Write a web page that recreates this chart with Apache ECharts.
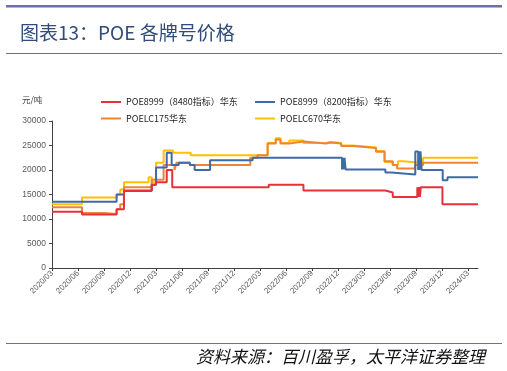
<!DOCTYPE html>
<html><head><meta charset="utf-8">
<script src="https://cdn.jsdelivr.net/npm/echarts@6/dist/echarts.min.js"></script>
<style>html,body{margin:0;padding:0;background:#fff}#c{width:507px;height:371px}</style>
</head><body><div id="c"></div>
<script>
// ---- data (change points: [date, price]; price holds until next point) ----
const seriesNames = ['POE8999（8480指标）华东','POE8999（8200指标）华东','POELC175华东','POELC670华东'];
const xTickLabels = ['2020/03','2020/06','2020/09','2020/12','2021/03','2021/06','2021/09','2021/12','2022/03','2022/06','2022/09','2022/12','2023/03','2023/06','2023/09','2023/12','2024/03'];
const yTicks = [0,5000,10000,15000,20000,25000,30000];
const startDate = '2020-03-01';
const endDate = '2024-04-05';

const red8480 = [
 ['2020-03-01',11500],['2020-06-15',10900],['2020-10-15',12000],['2020-11-10',15800],
 ['2021-02-15',17000],['2021-03-01',17500],['2021-04-08',20000],['2021-04-27',16500],
 ['2022-04-01',17000],['2022-08-01',15800],['2023-05-15',15400],['2023-06-10',14500],
 ['2023-09-05',16500],['2023-09-08',14500],['2023-09-11',16500],['2023-09-14',14500],['2023-09-17',16500],
 ['2023-12-02',13000],['2024-04-05',13000]
];
const blue8200 = [
 ['2020-03-01',13500],['2020-10-15',15000],['2020-11-10',15700],['2021-02-15',17000],
 ['2021-03-01',20500],['2021-04-08',23500],['2021-04-25',21000],['2021-05-20',21500],
 ['2021-06-28',21000],['2021-07-15',20000],['2021-09-08',22000],['2022-02-05',22500],
 ['2022-12-15',20100],['2022-12-18',22500],['2022-12-21',20100],['2022-12-24',22500],['2022-12-28',20100],
 ['2023-05-15',19500],['2023-06-05',19100],
 ['2023-08-29',23800],['2023-09-08',20000],['2023-09-10',23800],['2023-09-14',20000],['2023-09-16',23800],['2023-09-20',20000],
 ['2023-12-03',17900],['2023-12-20',18500],['2024-04-05',18500]
];
const orangeC175 = [
 ['2020-03-01',12400],['2020-06-15',11200],['2020-08-30',11000],['2020-10-15',12000],
 ['2020-10-28',13000],['2020-11-10',16500],['2021-02-15',18000],['2021-03-28',21000],
 ['2021-05-05',20000],['2021-05-12',21500],['2021-06-28',21000],['2022-01-28',22500],
 ['2022-02-20',23000],['2022-03-28',25400],['2022-04-25',26200],['2022-05-12',25400],
 ['2022-06-12',25800],['2022-08-01',25400],['2022-10-20',25600],['2022-11-05',25400],
 ['2022-12-12',24900],['2023-01-22',24500],['2023-04-12',23700],['2023-05-12',21800],
 ['2023-06-10',21000],['2023-06-25',20300],['2023-08-28',21000],['2023-09-25',21500],
 ['2024-04-05',21500]
];
const yellowC670 = [
 ['2020-03-01',13000],['2020-06-15',14400],['2020-10-15',15000],['2020-10-28',16000],
 ['2020-11-10',17500],['2021-02-05',18500],['2021-02-15',17500],['2021-03-01',21500],
 ['2021-03-28',24000],['2021-04-30',23500],['2021-07-01',23000],['2022-03-28',25500],
 ['2022-04-25',26500],['2022-05-12',25500],['2022-06-12',26000],['2022-08-01',25500],
 ['2022-10-20',25700],['2022-11-05',25500],['2022-12-12',25000],['2023-01-22',24600],
 ['2023-04-12',23900],['2023-05-12',21650],['2023-06-10',21000],['2023-06-28',21800],
 ['2023-07-15',21450],['2023-09-25',22500],['2024-04-05',22500]
];
const colors = ['#E8303A','#3E6BA8','#F08436','#FFC000'];

// ---- helpers ----
function toM(s){
  const [y,m,d] = s.split('-').map(Number);
  const dim = new Date(y, m, 0).getDate();
  return (y-2020)*12 + (m-3) + (d-1)/dim;
}
const conv = arr => arr.map(p => [toM(p[0]), p[1]]);
const tickVals = xTickLabels.map((_, i) => i*3);

const chart = echarts.init(document.getElementById('c'), null, {renderer:'canvas'});
const mk = (name, data, color, z) => ({
  name, type:'line', step:'end', data: conv(data), showSymbol:false, symbol:'none',
  lineStyle:{color, width:2}, itemStyle:{color}, z, animation:false
});
const legendText = {fontSize:9, color:'#222', fontFamily:'"Noto Sans CJK SC", sans-serif', lineHeight:10};
chart.setOption({
  animation:false,
  grid:{left:52, top:121, right:29, bottom:103},
  legend:[
    {left:101, top:97, orient:'vertical', itemGap:6.5, itemWidth:20, itemHeight:2, icon:'rect',
     data:[seriesNames[0], seriesNames[2]], textStyle:legendText, selectedMode:false, padding:0},
    {left:255, top:97, orient:'vertical', itemGap:6.5, itemWidth:20, itemHeight:2, icon:'rect',
     data:[seriesNames[1], seriesNames[3]], textStyle:legendText, selectedMode:false, padding:0}
  ],
  xAxis:{
    type:'value', min:0, max:toM(endDate), interval:3,
    axisLine:{lineStyle:{color:'#404040', width:1}},
    axisTick:{show:true, length:3, lineStyle:{color:'#404040'}, customValues:tickVals},
    axisLabel:{rotate:45, fontSize:8, color:'#595959', margin:4, customValues:tickVals,
      fontFamily:'"Liberation Sans", Arial, sans-serif',
      formatter: v => { const i = Math.round(v/3); return (Math.abs(v - i*3) < 1e-6 && xTickLabels[i]) ? xTickLabels[i] : ''; }},
    splitLine:{show:false}
  },
  yAxis:{
    type:'value', min:yTicks[0], max:yTicks[yTicks.length-1], interval:5000,
    axisLine:{show:true, lineStyle:{color:'#404040', width:1}},
    axisTick:{show:true, length:3, lineStyle:{color:'#404040'}},
    axisLabel:{fontSize:8.5, color:'#595959', margin:6, fontFamily:'"Liberation Sans", Arial, sans-serif',
      formatter: v => String(v)},
    splitLine:{show:false}
  },
  series:[
    mk(seriesNames[0], red8480, colors[0], 4),
    mk(seriesNames[1], blue8200, colors[1], 3),
    mk(seriesNames[2], orangeC175, colors[2], 2),
    mk(seriesNames[3], yellowC670, colors[3], 1)
  ],
  graphic:[
    {type:'rect', shape:{x:6, y:5, width:496, height:2.5}, style:{fill:'#6B70A6'}},
    {type:'rect', shape:{x:6, y:53, width:496, height:1}, style:{fill:'#6B70A6'}},
    {type:'rect', shape:{x:6, y:343, width:496, height:1}, style:{fill:'#6B70A6'}},
    {type:'text', left:20, top:23, style:{text:'图表13：POE 各牌号价格', fontSize:19, fill:'#2F4C7A',
      fontFamily:'"Noto Sans CJK SC", sans-serif'}},
    {type:'text', left:22, top:96, style:{text:'元/吨', fontSize:8.5, fill:'#404040',
      fontFamily:'"Noto Sans CJK SC", sans-serif'}},
    {type:'text', right:22, top:348, style:{text:'资料来源：百川盈孚，太平洋证券整理', fontSize:17, fill:'#111',
      fontStyle:'italic', fontFamily:'"Noto Sans CJK SC", sans-serif'}}
  ]
});
</script></body></html>
